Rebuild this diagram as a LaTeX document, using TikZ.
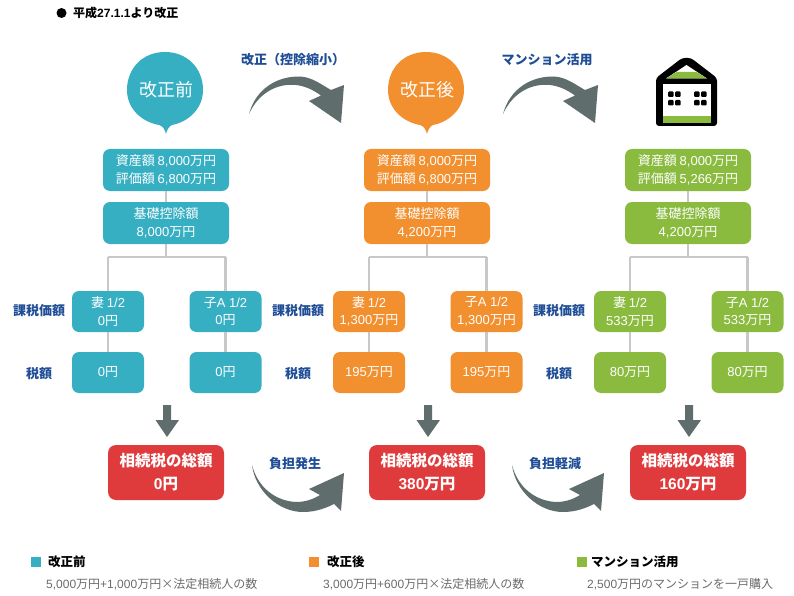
\documentclass[tikz,border=0pt]{standalone}
\usepackage{fontspec}
\setmainfont{Noto Sans CJK JP}
\newfontfamily\ltn{Liberation Sans}
\newcommand\la[1]{{\ltn #1}}
\definecolor{cteal}{HTML}{37AFC3}
\definecolor{corange}{HTML}{F28F2E}
\definecolor{cgreen}{HTML}{8ABB3F}
\definecolor{cred}{HTML}{DF3B3D}
\definecolor{cblue}{HTML}{1F4E96}
\definecolor{carrow}{HTML}{5F6D6C}
\definecolor{cline}{HTML}{C8C8C8}
\definecolor{cgreytext}{HTML}{6B6B6B}
\tikzset{
  x=1pt,y=-1pt,
  base/.style={rounded corners=7pt,text=white,align=center,inner sep=0pt,font=\fontsize{13}{17.5}\selectfont},
  wide/.style={base,minimum width=126pt,minimum height=42pt},
  small/.style={base,minimum width=72pt,minimum height=41pt},
  total/.style={rounded corners=8pt,fill=cred,text=white,align=center,inner sep=0pt,minimum width=116pt,minimum height=55pt,font=\fontsize{15.5}{23}\selectfont\bfseries},
  treeline/.style={draw=cline,line width=2.6pt},
  sidelabel/.style={text=cblue,font=\fontsize{13}{15}\selectfont\bfseries,inner sep=0pt},
  toplabel/.style={text=cblue,font=\fontsize{13}{15}\selectfont\bfseries,inner sep=0pt},
  downarrow/.style={fill=carrow},
  curved/.style={fill=carrow},
  legendhead/.style={anchor=west,inner sep=0pt,font=\fontsize{12.5}{14}\selectfont\bfseries},
  legendsub/.style={anchor=west,inner sep=0pt,text=cgreytext,font=\fontsize{12}{14}\selectfont},
  swatch/.style={minimum size=10.5pt,inner sep=0pt}
}
\newcommand\taxcolumn[9]{%
  \begin{scope}[xshift=#2pt]
    \coordinate (#1j) at (166,257);
    \coordinate (#1l) at (108,257);
    \coordinate (#1r) at (225.5,257);
    \node[wide,fill=#3] (#1a) at (166,170) {#4};
    \node[wide,fill=#3] (#1b) at (166,223) {#5};
    \node[small,fill=#3] (#1e) at (108,372.5) {#7};
    \node[small,fill=#3] (#1f) at (225.5,372.5) {#7};
    \node[small,fill=#3] (#1c) at (108,311.5) {妻 \la{1/2}\\#6};
    \node[small,fill=#3] (#1d) at (225.5,311.5) {子\la{A 1/2}\\#6};
    \draw[treeline] (#1b) -- (#1j);
    \draw[treeline] (#1a) -- (#1b);
    \draw[treeline] (#1l) -- (#1r);
    \draw[treeline] (#1l) -- (#1c);
    \draw[treeline] (#1r) -- (#1d);
    \draw[treeline] (#1c) -- (#1e);
    \draw[treeline] (#1d) -- (#1f);
    \fill[downarrow] (163,405) -- (171,405) -- (171,420) -- (179,420) -- (167,437) -- (155.5,420) -- (163,420) -- cycle;
    \node[total] (#1g) at (166,472.5) {相続税の総額\\#8};
  \end{scope}}
\newcommand\overarrow[1]{%
  \fill[curved,xshift=#1pt] (249,114) .. controls (256,88) and (278,76) .. (300,76.5) .. controls (312,77) and (322,85) .. (331,90) -- (344,85) -- (341,123) -- (309,101) -- (321,95.5) .. controls (312,89) and (304,86) .. (296,85) .. controls (276,83) and (258,94) .. (249,114) -- cycle;}
\newcommand\underarrow[1]{%
  \fill[curved,xshift=#1pt] (252,465) .. controls (255,490) and (278,512) .. (303,512) .. controls (316,512) and (326,508) .. (334,504) -- (341,511) -- (344,473) -- (309,489) -- (320,495) .. controls (312,500) and (304,502) .. (296,502) .. controls (276,501) and (258,488) .. (252,465) -- cycle;}
\newcommand\bubbleshape[2]{%
  \fill[#1,xshift=#2pt] (165,52) .. controls (187,52) and (203,68) .. (203,90) .. controls (203,109) and (188,122) .. (172,125) .. controls (169,126) and (167,130) .. (166,134) .. controls (165,130) and (163,126) .. (159,125) .. controls (142,122) and (127,109) .. (127,90) .. controls (127,68) and (143,52) .. (165,52) -- cycle;}
\begin{document}
\begin{tikzpicture}
\useasboundingbox (0,0) rectangle (794,596);
\node[circle,fill=black,minimum size=10pt,inner sep=0pt] (hdot) at (61.5,13) {};
\node[anchor=west,inner sep=0pt,font=\fontsize{12}{14}\selectfont\bfseries] (htext) at (73,13) {平成\la{27.1.1}より改正};
\bubbleshape{cteal}{0}
\node[text=white,inner sep=0pt,font=\fontsize{18}{20}\selectfont] (bub1) at (166,90) {改正前};
\bubbleshape{corange}{261}
\node[text=white,inner sep=0pt,font=\fontsize{18}{20}\selectfont] (bub2) at (427,90) {改正後};
% building
\fill[black,rounded corners=3pt] (656,78) -- (682,58) -- (691,58) -- (717,78) -- (717,126) -- (656,126) -- cycle;
\fill[white] (666,78.5) -- (686.5,65) -- (707,78.5) -- cycle;
\fill[cgreen] (666,78.5) -- (676.5,72) -- (696.5,72) -- (707,78.5) -- cycle;
\fill[white] (663,84) rectangle (711,116);
\fill[cgreen] (663,116) rectangle (711,123);
\foreach \wx in {668,694}{\foreach \wy in {94,102.5}{
  \fill[black,rounded corners=1pt] (\wx,\wy-2.5) rectangle ++(5.5,5.5);
  \fill[black,rounded corners=1pt] (\wx+7,\wy-2.5) rectangle ++(5.5,5.5);}}
\node[toplabel] (t1) at (293,60) {改正（控除縮小）};
\node[toplabel] (t2) at (547,60) {マンション活用};
\overarrow{0}
\overarrow{254}
\taxcolumn{p}{0}{cteal}{資産額 \la{8,000}万円\\評価額 \la{6,800}万円}{基礎控除額\\\la{8,000}万円}{\la{0}円}{\la{0}円}{\la{0}円}{}
\taxcolumn{q}{261}{corange}{資産額 \la{8,000}万円\\評価額 \la{6,800}万円}{基礎控除額\\\la{4,200}万円}{\la{1,300}万円}{\la{195}万円}{\la{380}万円}{}
\taxcolumn{r}{522}{cgreen}{資産額 \la{8,000}万円\\評価額 \la{5,266}万円}{基礎控除額\\\la{4,200}万円}{\la{533}万円}{\la{80}万円}{\la{160}万円}{}
\foreach \nm/\sx in {a/39,b/298,c/559}{
  \node[sidelabel] (k\nm) at (\sx,311) {課税価額};
}
\foreach \nm/\sx in {a/39,b/298,c/559}{
  \node[sidelabel] (z\nm) at (\sx,373.5) {税額};
}
\underarrow{0}
\underarrow{260}
\node[toplabel] (t3) at (295,464) {負担発生};
\node[toplabel] (t4) at (555,464) {負担軽減};
\node[swatch,fill=cteal] (s1) at (36,562) {};
\node[legendhead] (l1) at (48,562) {改正前};
\node[legendsub] (m1) at (46,584) {\la{5,000}万円\la{+1,000}万円×法定相続人の数};
\node[swatch,fill=corange] (s2) at (314,562) {};
\node[legendhead] (l2) at (327,562) {改正後};
\node[legendsub] (m2) at (323,584) {\la{3,000}万円\la{+600}万円×法定相続人の数};
\node[swatch,fill=cgreen] (s3) at (582,562) {};
\node[legendhead] (l3) at (591,562) {マンション活用};
\node[legendsub] (m3) at (587,584) {\la{2,500}万円のマンションを一戸購入};
\end{tikzpicture}
\end{document}
